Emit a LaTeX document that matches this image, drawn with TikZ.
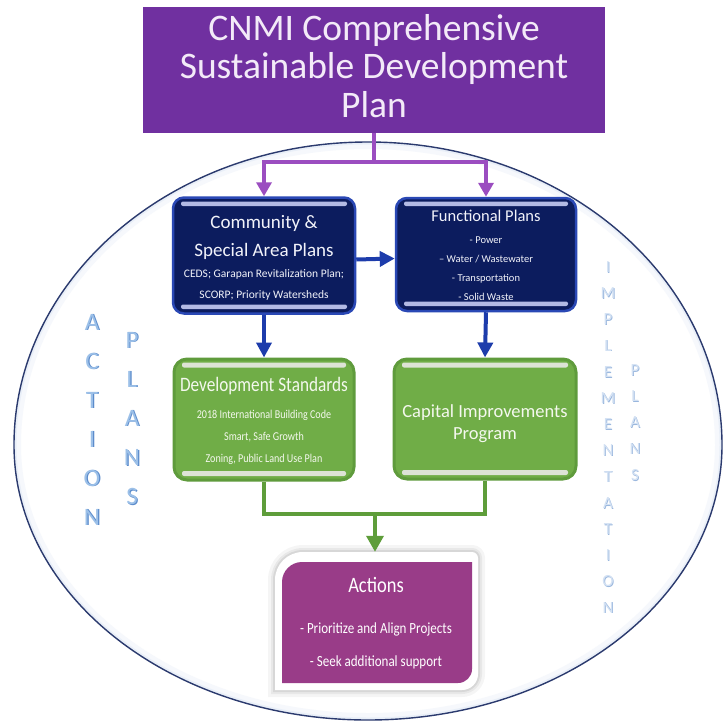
\documentclass[tikz,border=0pt]{standalone}
\usepackage{fontspec}
\setmainfont{Carlito}
\newfontfamily\condfont[FakeStretch=0.84]{Carlito}
\usetikzlibrary{arrows.meta}
\definecolor{titlep}{HTML}{7030A0}
\definecolor{titletxt}{HTML}{F3EAF8}
\definecolor{connp}{HTML}{9B4DC0}
\definecolor{navy}{HTML}{0C1C5E}
\definecolor{navyrim}{HTML}{2A48B5}
\definecolor{navystrip}{HTML}{B3BAE4}
\definecolor{bluearr}{HTML}{1D3CAB}
\definecolor{grn}{HTML}{70AD47}
\definecolor{grnrim}{HTML}{5F9B3C}
\definecolor{grnstrip}{HTML}{DDE3D6}
\definecolor{grnline}{HTML}{5E9D3A}
\definecolor{actp}{HTML}{993C88}
\definecolor{ellc}{HTML}{2B3A6E}
\definecolor{glowa}{HTML}{F6F8FC}
\definecolor{glowb}{HTML}{E9EFF8}
\definecolor{lfill}{HTML}{9CC0E8}
\definecolor{ldark}{HTML}{5B8BCB}
\definecolor{rfill}{HTML}{D3E1F3}
\definecolor{rdark}{HTML}{9AB7DE}
\definecolor{boxtxt}{HTML}{F2F3FA}
\definecolor{grntxt}{HTML}{F4F8EE}
\begin{document}
\begin{tikzpicture}[x=1pt,y=-1pt,
  txt/.style={inner sep=0pt, anchor=base},
  navybox/.style={rectangle, rounded corners=11pt, fill=navy, draw=navyrim, line width=2.5pt, inner sep=0pt},
  grnbox/.style={rectangle, rounded corners=13pt, fill=grn, draw=grnrim, line width=3pt, inner sep=0pt},
  nstrip/.style={fill=navystrip, rounded corners=2pt},
  gstrip/.style={fill=grnstrip, rounded corners=2pt},
  pline/.style={draw=connp, line width=3.5pt},
  parr/.style={-{Triangle[length=14pt,width=15pt]}},
  bline/.style={draw=bluearr, line width=4pt},
  barr/.style={-{Triangle[length=15pt,width=15pt]}},
  gline/.style={draw=grnline, line width=3.5pt},
  garr/.style={-{Triangle[length=16pt,width=17pt]}},
  letl/.style={inner sep=0pt, anchor=base, font=\fontsize{25pt}{25pt}\selectfont},
  letr/.style={inner sep=0pt, anchor=base, font=\fontsize{17pt}{17pt}\selectfont}
]
\useasboundingbox (0,0) rectangle (728,723);
\fill[white] (0,0) rectangle (728,723);

% ellipse with inner glow
\def\ellpath{(722,445) .. controls (722,277.7) and (563.5,142) .. (368,142) .. controls (172.5,142) and (14,277.7) .. (14,445) .. controls (14,596.9) and (172.5,720) .. (368,720) .. controls (563.5,720) and (722,596.9) .. (722,445)}
\begin{scope}
\clip \ellpath;
\draw[glowa, line width=14pt] \ellpath;
\draw[glowb, line width=5pt] \ellpath;
\end{scope}
\draw[ellc, line width=1.4pt] \ellpath;

% title
\node[fill=titlep, minimum width=462pt, minimum height=126pt, inner sep=0pt] (title) at (374,70) {};
\node[txt, text=titletxt, font=\fontsize{37.5pt}{37.5pt}\selectfont] (t1) at (374,40) {CNMI Comprehensive};
\node[txt, text=titletxt, font=\fontsize{37.5pt}{37.5pt}\selectfont] (t2) at (374,78) {Sustainable Development};
\node[txt, text=titletxt, font=\fontsize{37.5pt}{37.5pt}\selectfont] (t3) at (374,117.5) {Plan};

% navy boxes
\node[navybox, minimum width=182pt, minimum height=116pt] (cb) at (264,255.5) {};
\fill[nstrip] (181,201.5) rectangle (347,206);
\fill[nstrip] (181,304.5) rectangle (347,309);
\node[txt, text=boxtxt, font=\fontsize{19pt}{19pt}\selectfont] (cb1) at (264,228) {Community \&};
\node[txt, text=boxtxt, font=\fontsize{19pt}{19pt}\selectfont] (cb2) at (264,256) {Special Area Plans};
\node[txt, text=boxtxt, font=\fontsize{11.5pt}{11.5pt}\selectfont] (cb3) at (264,277) {CEDS; Garapan Revitalization Plan;};
\node[txt, text=boxtxt, font=\fontsize{11.5pt}{11.5pt}\selectfont] (cb4) at (264,298) {SCORP; Priority Watersheds};

\node[navybox, minimum width=180pt, minimum height=113pt] (fb) at (486,254.5) {};
\fill[nstrip] (404,201.5) rectangle (568,206);
\fill[nstrip] (404,301.5) rectangle (568,306);
\node[txt, text=boxtxt, font=\fontsize{16.5pt}{16.5pt}\selectfont] (fb1) at (486,221.5) {Functional Plans};
\node[txt, text=boxtxt, font=\fontsize{10.5pt}{10.5pt}\selectfont] (fb2) at (486,243.5) {- Power};
\node[txt, text=boxtxt, font=\fontsize{10.5pt}{10.5pt}\selectfont] (fb3) at (486,262.5) {– Water / Wastewater};
\node[txt, text=boxtxt, font=\fontsize{10.5pt}{10.5pt}\selectfont] (fb4) at (486,281.5) {- Transportation};
\node[txt, text=boxtxt, font=\fontsize{10.5pt}{10.5pt}\selectfont] (fb5) at (486,300.5) {- Solid Waste};

% green boxes
\node[grnbox, minimum width=180pt, minimum height=121pt] (db) at (264,419.5) {};
\fill[gstrip] (182,362.5) rectangle (346,367.5);
\fill[gstrip] (182,471) rectangle (346,476);
\node[txt, text=grntxt, font=\condfont\fontsize{20.5pt}{20.5pt}\selectfont] (db1) at (264,391) {Development Standards};
\node[txt, text=grntxt, font=\condfont\fontsize{12pt}{12pt}\selectfont] (db2) at (264,418.5) {2018 International Building Code};
\node[txt, text=grntxt, font=\condfont\fontsize{12pt}{12pt}\selectfont] (db3) at (264,440.5) {Smart, Safe Growth};
\node[txt, text=grntxt, font=\condfont\fontsize{12pt}{12pt}\selectfont] (db4) at (264,462.5) {Zoning, Public Land Use Plan};

\node[grnbox, minimum width=182pt, minimum height=120pt] (capb) at (485,419) {};
\fill[gstrip] (402,362.5) rectangle (568,367.5);
\fill[gstrip] (402,470) rectangle (568,475);
\node[txt, text=grntxt, font=\fontsize{18.5pt}{18.5pt}\selectfont] (cp1) at (485,417) {Capital Improvements};
\node[txt, text=grntxt, font=\fontsize{18.5pt}{18.5pt}\selectfont] (cp2) at (485,439) {Program};

% actions box
\node[minimum width=203pt, minimum height=138pt, inner sep=0pt] (ab) at (376.5,621) {};
\def\framepath{(275,690) -- (275,580) .. controls (275,564.5) and (287.5,552) .. (303,552) -- (472,552) .. controls (475.3,552) and (478,554.7) .. (478,558) -- (478,674) .. controls (478,682.8) and (470.8,690) .. (462,690) -- cycle}
\draw[black, opacity=0.04, line width=14pt] \framepath;
\draw[black, opacity=0.05, line width=8pt] \framepath;
\draw[black, opacity=0.07, line width=4pt] \framepath;
\fill[white] \framepath;
\fill[actp] (282,683) -- (282,582) .. controls (282,571) and (291,562) .. (302,562) -- (472,562) -- (472,669) .. controls (472,676.7) and (465.7,683) .. (458,683) -- cycle;
\node[txt, text=white, font=\condfont\fontsize{22pt}{22pt}\selectfont] (a1) at (376,592) {Actions};
\node[txt, text=white, font=\condfont\fontsize{15.5pt}{15.5pt}\selectfont] (a2) at (376,633) {- Prioritize and Align Projects};
\node[txt, text=white, font=\condfont\fontsize{15.5pt}{15.5pt}\selectfont] (a3) at (376,666) {- Seek additional support};

% connectors
\coordinate (tj) at (374,162);
\draw[pline] (title.south) -- (tj);
\draw[pline, parr] (tj) -| (cb.north);
\draw[pline, parr] (tj) -| (fb.north);
\draw[bline, barr] ([yshift=-4pt]cb.east) -- ([yshift=-4pt]fb.west);
\draw[bline, barr] (cb.south) -- (db.north);
\draw[bline, barr] (fb.south) -- (capb.north);
\coordinate (gj) at (375,514);
\draw[gline] (db.south) |- (gj) -| (capb.south);
\draw[gline, garr] (gj) -- (ab.north -| gj);

% side letters
\foreach \ch [count=\i] in {A,C,T,I,O,N} {
  \node[letl, text=ldark] (acs\i) at ({93.2}, {330.5+39*(\i-1)}) {\ch};
  \node[letl, text=lfill] (act\i) at (92, {330+39*(\i-1)}) {\ch};
}
\foreach \ch [count=\i] in {P,L,A,N,S} {
  \node[letl, text=ldark] (pls\i) at ({133.2}, {348.5+39.2*(\i-1)}) {\ch};
  \node[letl, text=lfill] (pl\i) at (132, {348+39.2*(\i-1)}) {\ch};
}
\foreach \ch [count=\i] in {I,M,P,L,E,M,E,N,T,A,T,I,O,N} {
  \node[letr, text=rdark] (ims\i) at (608.8, {273.3+26.2*(\i-1)}) {\ch};
  \node[letr, text=rfill] (im\i) at (608, {272.5+26.2*(\i-1)}) {\ch};
}
\foreach \ch [count=\i] in {P,L,A,N,S} {
  \node[letr, text=rdark] (prs\i) at (635.8, {376.3+26.2*(\i-1)}) {\ch};
  \node[letr, text=rfill] (pr\i) at (635, {375.5+26.2*(\i-1)}) {\ch};
}
\end{tikzpicture}
\end{document}
